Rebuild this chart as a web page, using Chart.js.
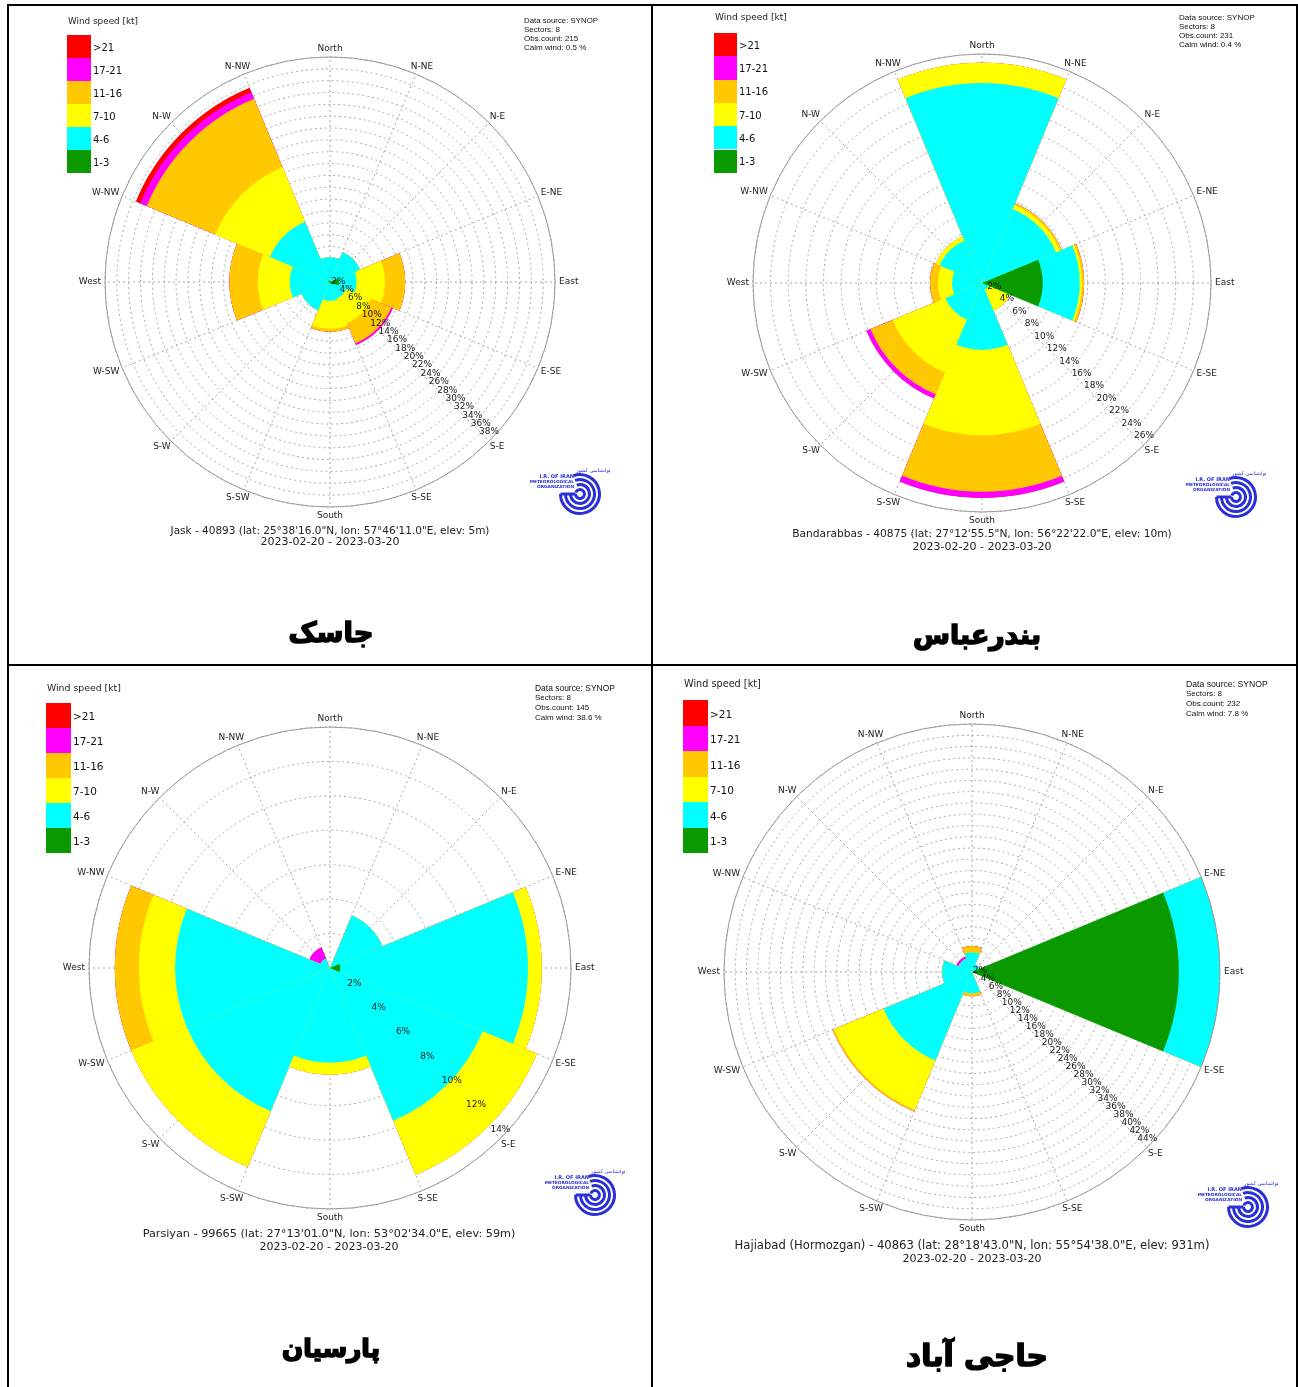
<!DOCTYPE html>
<html>
<head>
<meta charset="utf-8">
<script src="https://cdn.jsdelivr.net/npm/chart.js@4.4.1/dist/chart.umd.min.js"></script>
<style>
  html, body { margin: 0; padding: 0; background: #fff; }
  body { width: 1298px; height: 1387px; position: relative; overflow: hidden; font-family: "DejaVu Sans", sans-serif; }
  .rule { position: absolute; background: #000; }
  canvas { position: absolute; }
  .txt { position: absolute; white-space: nowrap; line-height: 1; color: #222; }
  .heavy { -webkit-text-stroke: 1.6px #000; }
  .box { position: absolute; }
</style>
</head>
<body>
<script>
// ---------------------------------------------------------------------------
// Wind rose data: frequency (%) of each speed class per direction sector
// Sector order: N, NE, E, SE, S, SW, W, NW
// ---------------------------------------------------------------------------
const SECTORS = ['N', 'NE', 'E', 'SE', 'S', 'SW', 'W', 'NW'];
const COMPASS = ['N-NW', 'North', 'N-NE', 'N-E', 'E-NE', 'East', 'E-SE', 'S-E',
                 'S-SE', 'South', 'S-SW', 'S-W', 'W-SW', 'West', 'W-NW', 'N-W'];
const SPEED_CLASSES = ['1-3', '4-6', '7-10', '11-16', '17-21', '>21'];
const SPEED_COLORS = ['#0a9a00', '#00ffff', '#ffff00', '#ffc800', '#ff00ff', '#ff0000'];

// Jask
const JASK_1_3   = [0.2, 0.2, 1.5, 0.4, 0.2, 0.2, 0.2, 0.3];
const JASK_4_6   = [4.0, 5.3, 3.0, 2.6, 3.0, 5.0, 6.6, 10.7];
const JASK_7_10  = [0.0, 0.0, 4.8, 4.5, 4.7, 0.0, 5.4, 10.0];
const JASK_11_16 = [0.0, 0.0, 3.4, 3.7, 0.5, 0.0, 4.8, 12.5];
const JASK_17_21 = [0.0, 0.0, 0.0, 0.3, 0.0, 0.0, 0.0, 1.2];
const JASK_GT21  = [0.0, 0.0, 0.0, 0.0, 0.0, 0.0, 0.0, 0.8];
const JASK_TICKS = [2, 4, 6, 8, 10, 12, 14, 16, 18, 20, 22, 24, 26, 28, 30, 32, 34, 36, 38];
const JASK_INFO = ['Data source: SYNOP', 'Sectors: 8', 'Obs.count: 215', 'Calm wind: 0.5 %'];
const JASK_CAPTION = ['Jask - 40893 (lat: 25°38\'16.0"N, lon: 57°46\'11.0"E, elev: 5m)', '2023-02-20 - 2023-03-20'];
const JASK_TITLE = 'جاسک';

// Bandarabbas
const BANDAR_1_3   = [0.0, 0.0, 6.9, 0.0, 0.0, 0.0, 0.0, 0.0];
const BANDAR_4_6   = [22.7, 9.1, 4.2, 0.8, 7.6, 4.5, 3.4, 5.2];
const BANDAR_7_10  = [2.3, 0.5, 0.25, 2.6, 9.7, 6.5, 1.6, 0.5];
const BANDAR_11_16 = [0.0, 0.2, 0.25, 0.0, 6.4, 2.7, 0.9, 0.0];
const BANDAR_17_21 = [0.0, 0.0, 0.0, 0.0, 0.7, 0.5, 0.0, 0.0];
const BANDAR_GT21  = [0.0, 0.0, 0.0, 0.0, 0.0, 0.0, 0.0, 0.0];
const BANDAR_TICKS = [2, 4, 6, 8, 10, 12, 14, 16, 18, 20, 22, 24, 26];
const BANDAR_INFO = ['Data source: SYNOP', 'Sectors: 8', 'Obs.count: 231', 'Calm wind: 0.4 %'];
const BANDAR_CAPTION = ['Bandarabbas - 40875 (lat: 27°12\'55.5"N, lon: 56°22\'22.0"E, elev: 10m)', '2023-02-20 - 2023-03-20'];
const BANDAR_TITLE = 'بندرعباس';

// Parsiyan
const PARSIYAN_1_3   = [0.0, 0.0, 0.6, 0.0, 0.0, 0.0, 0.0, 0.0];
const PARSIYAN_4_6   = [0.0, 3.3, 10.9, 9.6, 5.5, 9.0, 9.0, 0.6];
const PARSIYAN_7_10  = [0.0, 0.0, 0.8, 3.4, 0.7, 3.5, 2.1, 0.0];
const PARSIYAN_11_16 = [0.0, 0.0, 0.0, 0.0, 0.0, 0.0, 1.4, 0.0];
const PARSIYAN_17_21 = [0.0, 0.0, 0.0, 0.0, 0.0, 0.0, 0.0, 0.7];
const PARSIYAN_GT21  = [0.0, 0.0, 0.0, 0.0, 0.0, 0.0, 0.0, 0.0];
const PARSIYAN_TICKS = [2, 4, 6, 8, 10, 12, 14];
const PARSIYAN_INFO = ['Data source: SYNOP', 'Sectors: 8', 'Obs.count: 145', 'Calm wind: 38.6 %'];
const PARSIYAN_CAPTION = ['Parsiyan - 99665 (lat: 27°13\'01.0"N, lon: 53°02\'34.0"E, elev: 59m)', '2023-02-20 - 2023-03-20'];
const PARSIYAN_TITLE = 'پارسیان';

// Hajiabad (Hormozgan)
const HAJI_1_3   = [0.0, 0.0, 36.7, 0.0, 0.0, 0.0, 0.0, 0.0];
const HAJI_4_6   = [3.5, 1.5, 7.3, 0.0, 3.8, 17.0, 5.3, 2.6];
const HAJI_7_10  = [0.0, 0.0, 0.0, 0.0, 0.0, 9.5, 0.0, 0.0];
const HAJI_11_16 = [1.1, 0.0, 0.0, 0.0, 0.5, 0.3, 0.0, 0.0];
const HAJI_17_21 = [0.0, 0.0, 0.0, 0.0, 0.0, 0.0, 0.0, 0.4];
const HAJI_GT21  = [0.0, 0.0, 0.0, 0.0, 0.0, 0.0, 0.0, 0.0];
const HAJI_TICKS = [2, 4, 6, 8, 10, 12, 14, 16, 18, 20, 22, 24, 26, 28, 30, 32, 34, 36, 38, 40, 42, 44];
const HAJI_INFO = ['Data source: SYNOP', 'Sectors: 8', 'Obs.count: 232', 'Calm wind: 7.8 %'];
const HAJI_CAPTION = ['Hajiabad (Hormozgan) - 40863 (lat: 28°18\'43.0"N, lon: 55°54\'38.0"E, elev: 931m)', '2023-02-20 - 2023-03-20'];
const HAJI_TITLE = 'حاجی آباد';

const STATIONS = [
  { classes: [JASK_1_3, JASK_4_6, JASK_7_10, JASK_11_16, JASK_17_21, JASK_GT21], ticks: JASK_TICKS,
    info: JASK_INFO, caption: JASK_CAPTION, title: JASK_TITLE },
  { classes: [BANDAR_1_3, BANDAR_4_6, BANDAR_7_10, BANDAR_11_16, BANDAR_17_21, BANDAR_GT21], ticks: BANDAR_TICKS,
    info: BANDAR_INFO, caption: BANDAR_CAPTION, title: BANDAR_TITLE },
  { classes: [PARSIYAN_1_3, PARSIYAN_4_6, PARSIYAN_7_10, PARSIYAN_11_16, PARSIYAN_17_21, PARSIYAN_GT21], ticks: PARSIYAN_TICKS,
    info: PARSIYAN_INFO, caption: PARSIYAN_CAPTION, title: PARSIYAN_TITLE },
  { classes: [HAJI_1_3, HAJI_4_6, HAJI_7_10, HAJI_11_16, HAJI_17_21, HAJI_GT21], ticks: HAJI_TICKS,
    info: HAJI_INFO, caption: HAJI_CAPTION, title: HAJI_TITLE }
];

// ---------------------------------------------------------------------------
// Page layout (pixels)
// ---------------------------------------------------------------------------
const PANELS = [
  { rect: [9, 6, 642, 657], cx: 330, cy: 282, R: 225,
    legend: { x: 67, y: 35, w: 24, h: 23, font: 10, headY: 21, headW: 70 },
    info: { x: 524, y: 21, dy: 9, w: 74 }, caption: { x: 330, y: 530, dy: 11.5, w: 319 },
    title: { x: 331, y: 633, w: 85, size: 40 }, logo: [580, 494] },
  { rect: [653, 6, 644, 657], cx: 982, cy: 283, R: 229,
    legend: { x: 714, y: 33, w: 23, h: 23.3, font: 10, headY: 18, headW: 72 },
    info: { x: 1179, y: 18, dy: 9, w: 76 }, caption: { x: 982, y: 534, dy: 12, w: 380 },
    title: { x: 977, y: 635, w: 128, size: 40 }, logo: [1236, 497] },
  { rect: [9, 666, 642, 721], cx: 330, cy: 968, R: 241,
    legend: { x: 46, y: 703, w: 25, h: 25, font: 10.5, headY: 688, headW: 74 },
    info: { x: 535, y: 688, dy: 10, w: 80 }, caption: { x: 329, y: 1234, dy: 12.5, w: 373 },
    title: { x: 331, y: 1349, w: 98, size: 40 }, logo: [595, 1195] },
  { rect: [653, 666, 644, 721], cx: 972, cy: 972, R: 248,
    legend: { x: 683, y: 700, w: 25, h: 25.5, font: 10.5, headY: 684, headW: 77 },
    info: { x: 1186, y: 684, dy: 10, w: 82 }, caption: { x: 972, y: 1246, dy: 12.5, w: 475 },
    title: { x: 977, y: 1356, w: 142, size: 40 }, logo: [1248, 1207] }
];

// ---------------------------------------------------------------------------
// Helpers
// ---------------------------------------------------------------------------
function addText(str, x, y, o) {
  const el = document.createElement('div');
  el.className = 'txt' + (o.cls ? ' ' + o.cls : '');
  el.textContent = str;
  el.style.fontSize = o.size + 'px';
  if (o.family) el.style.fontFamily = o.family;
  if (o.weight) el.style.fontWeight = o.weight;
  if (o.color) el.style.color = o.color;
  if (o.dir) el.dir = o.dir;
  document.body.appendChild(el);
  if (o.width) {
    const w0 = el.getBoundingClientRect().width;
    el.style.fontSize = (o.size * o.width / w0) + 'px';
  }
  const r = el.getBoundingClientRect();
  const left = o.align === 'center' ? x - r.width / 2 : (o.align === 'right' ? x - r.width : x);
  el.style.left = left + 'px';
  el.style.top = (y - r.height / 2) + 'px';
  return el;
}

function addRule(x, y, w, h) {
  const d = document.createElement('div');
  d.className = 'rule';
  Object.assign(d.style, { left: x + 'px', top: y + 'px', width: w + 'px', height: h + 'px' });
  document.body.appendChild(d);
}

function addLegend(lg) {
  addText('Wind speed [kt]', lg.x + 1, lg.headY, { size: 9, width: lg.headW });
  const order = [5, 4, 3, 2, 1, 0];
  order.forEach((k, row) => {
    const b = document.createElement('div');
    b.className = 'box';
    Object.assign(b.style, {
      left: lg.x + 'px', top: (lg.y + row * lg.h) + 'px',
      width: lg.w + 'px', height: lg.h + 'px', background: SPEED_COLORS[k]
    });
    document.body.appendChild(b);
    addText(SPEED_CLASSES[k], lg.x + lg.w + 2, lg.y + row * lg.h + lg.h / 2 + 1, { size: lg.font, color: '#111' });
  });
}

function addLogo(cx, cy) {
  const ns = 'http://www.w3.org/2000/svg';
  const svg = document.createElementNS(ns, 'svg');
  svg.setAttribute('width', 96);
  svg.setAttribute('height', 56);
  Object.assign(svg.style, { position: 'absolute', left: (cx - 66) + 'px', top: (cy - 28) + 'px' });
  const ox = 66, oy = 28;
  let inner = '';
  [4.5, 9.5, 14.5, 19.5].forEach((r, i) => {
    const a0 = (i === 0 ? 200 : 250) * Math.PI / 180;
    const a1 = 180 * Math.PI / 180;
    const x0 = ox + r * Math.cos(a0), y0 = oy + r * Math.sin(a0);
    const x1 = ox + r * Math.cos(a1), y1 = oy + r * Math.sin(a1);
    inner += `<path d="M${x0.toFixed(2)},${y0.toFixed(2)} A${r},${r} 0 1 1 ${x1.toFixed(2)},${y1.toFixed(2)}" fill="none" stroke="#2b2fd6" stroke-width="3"/>`;
  });
  inner += `<path d="M${ox - 19.5},${oy} L${ox - 4.5},${oy}" stroke="#2b2fd6" stroke-width="3"/>`;
  inner += `<text x="${ox - 4}" y="${oy - 22}" font-size="5" fill="#2b2fd6" text-anchor="end" font-family="DejaVu Sans" direction="rtl">سازمان هواشناسی کشور</text>`;
  inner += `<text x="${ox - 6}" y="${oy - 16}" font-size="5" font-weight="bold" fill="#2b2fd6" text-anchor="end" font-family="DejaVu Sans">I.R. OF IRAN</text>`;
  inner += `<text x="${ox - 6}" y="${oy - 11}" font-size="4.3" font-weight="bold" fill="#2b2fd6" text-anchor="end" font-family="DejaVu Sans">METEOROLOGICAL</text>`;
  inner += `<text x="${ox - 6}" y="${oy - 6}" font-size="4.3" font-weight="bold" fill="#2b2fd6" text-anchor="end" font-family="DejaVu Sans">ORGANIZATION</text>`;
  svg.innerHTML = inner;
  document.body.appendChild(svg);
}

// running totals per sector so each speed band is drawn as a stacked ring
function stackClasses(classes) {
  let run = SECTORS.map(() => 0);
  return classes.map(c => {
    run = run.map((v, i) => +(v + c[i]).toFixed(3));
    return run.slice();
  });
}

// outer ring, percentage labels along the S-E ray and compass labels
function roseDecor(st) {
  return {
    id: 'roseDecor',
    afterDatasetsDraw(chart) {
      const s = chart.scales.r;
      const ctx = chart.ctx;
      ctx.save();
      ctx.strokeStyle = '#9a9a9a';
      ctx.lineWidth = 1;
      ctx.setLineDash([]);
      ctx.beginPath();
      ctx.arc(s.xCenter, s.yCenter, s.drawingArea, 0, Math.PI * 2);
      ctx.stroke();

      ctx.font = '9px "DejaVu Sans"';
      ctx.fillStyle = '#1a1a1a';
      ctx.textAlign = 'center';
      ctx.textBaseline = 'middle';
      const seIndex = COMPASS.indexOf('S-E');
      st.ticks.forEach(v => {
        const p = s.getPointPosition(seIndex, s.getDistanceFromCenterForValue(v));
        ctx.fillText(v + '%', p.x, p.y - 9);
      });

      ctx.fillStyle = '#222';
      COMPASS.forEach((lab, i) => {
        const a = s.getIndexAngle(i);
        const p = s.getPointPosition(i, s.drawingArea + 4);
        const w = ctx.measureText(lab).width;
        const h = 9;
        ctx.fillText(lab, p.x + (w / 2) * Math.sin(a), p.y - (h / 2) * Math.cos(a));
      });
      ctx.restore();
    }
  };
}

function buildRose(st, pn) {
  const [px, py, pw, ph] = pn.rect;
  const cv = document.createElement('canvas');
  cv.width = pw; cv.height = ph;
  Object.assign(cv.style, { left: px + 'px', top: py + 'px', width: pw + 'px', height: ph + 'px' });
  document.body.appendChild(cv);

  const stacked = stackClasses(st.classes);
  const datasets = stacked.map((vals, k) => ({
    label: SPEED_CLASSES[k],
    data: vals,
    backgroundColor: SPEED_COLORS[k],
    borderWidth: 0
  }));
  const maxTick = st.ticks[st.ticks.length - 1];

  new Chart(cv, {
    type: 'polarArea',
    data: { labels: COMPASS, datasets },
    options: {
      responsive: false,
      animation: false,
      events: [],
      layout: {
        padding: {
          left: pn.cx - pn.R - px,
          top: pn.cy - pn.R - py,
          right: px + pw - (pn.cx + pn.R),
          bottom: py + ph - (pn.cy + pn.R)
        }
      },
      plugins: { legend: { display: false }, tooltip: { enabled: false } },
      scales: {
        r: {
          min: 0,
          max: maxTick,
          startAngle: -22.5,
          ticks: { display: false, stepSize: 2 },
          grid: { circular: true, color: '#a8a8a8', lineWidth: 1 },
          border: { dash: [2, 3] },
          angleLines: { display: true, color: '#a8a8a8', lineWidth: 1, borderDash: [2, 3] },
          pointLabels: { display: false }
        }
      }
    },
    plugins: [roseDecor(st)]
  });
}

// ---------------------------------------------------------------------------
// Frame lines
addRule(7, 4, 1291, 2);
addRule(7, 4, 2, 1383);
addRule(651, 4, 2, 1383);
addRule(1296, 4, 2, 1383);
addRule(7, 664, 1291, 2);

STATIONS.forEach((st, i) => {
  const pn = PANELS[i];
  buildRose(st, pn);
  addLegend(pn.legend);
  st.info.forEach((line, j) => {
    addText(line, pn.info.x, pn.info.y + j * pn.info.dy, {
      size: 8, family: '"Liberation Sans", sans-serif', color: '#111', width: j === 0 ? pn.info.w : null
    });
  });
  st.caption.forEach((line, j) => {
    addText(line, pn.caption.x, pn.caption.y + j * pn.caption.dy, {
      size: 11, align: 'center', width: j === 0 ? pn.caption.w : null, color: '#222'
    });
  });
  addText(st.title, pn.title.x, pn.title.y, {
    size: pn.title.size, weight: 'bold', align: 'center', width: pn.title.w, color: '#000', dir: 'rtl', cls: 'heavy'
  });
  addLogo(pn.logo[0], pn.logo[1]);
});
</script>
</body>
</html>
